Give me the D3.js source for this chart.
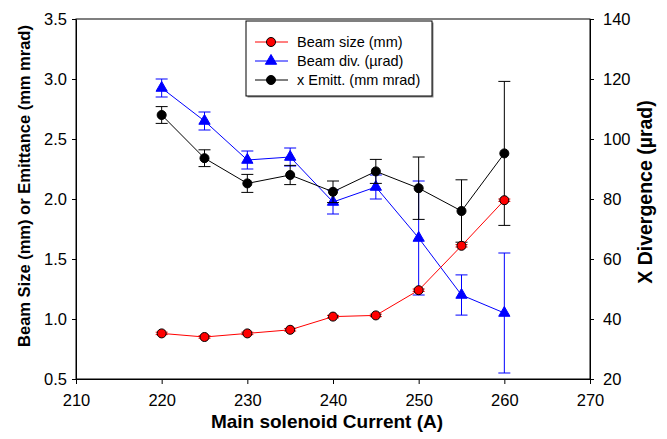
<!doctype html>
<html>
<head>
<meta charset="utf-8">
<style>
    body { margin: 0; background: #fff; }
    svg text { font-family: "Liberation Sans", Arial, sans-serif; }
</style>
<script src="https://d3js.org/d3.v7.min.js"></script>
</head>
<body>
<svg width="667" height="439" id="chart"></svg>
<script>

var current = [220, 225, 230, 235, 240, 245, 250, 255, 260];

// left axis series
var beamSize = [0.88, 0.85, 0.88, 0.91, 1.02, 1.03, 1.24, 1.61, 1.99];
var beamSizeErr = [0.01, 0.01, 0.01, 0.01, 0.01, 0.01, 0.01, 0.01, 0.01];
var emitt = [2.70, 2.34, 2.13, 2.20, 2.06, 2.23, 2.09, 1.90, 2.38];
var emittErr = [0.07, 0.07, 0.075, 0.08, 0.09, 0.1, 0.26, 0.26, 0.6];

// right axis series (urad)
var beamDiv = [117, 106, 93, 94, 79, 84, 67, 48, 42];
var beamDivErr = [3, 3, 3, 3, 4, 4, 19, 6.7, 20];

var xTicks = [210, 220, 230, 240, 250, 260, 270];
var yLeftTicks = [0.5, 1.0, 1.5, 2.0, 2.5, 3.0, 3.5];
var yRightTicks = [20, 40, 60, 80, 100, 120, 140];
var legendLabels = ["Beam size (mm)", "Beam div. (\u00b5rad)", "x Emitt. (mm mrad)"];

var svg = d3.select("#chart");
var plotL = 76, plotR = 590, plotT = 19, plotB = 379;

var x = d3.scaleLinear().domain([210, 270]).range([plotL, plotR]);
var yL = d3.scaleLinear().domain([0.5, 3.5]).range([plotB, plotT]);
var yR = d3.scaleLinear().domain([20, 140]).range([plotB, plotT]);

// frame
svg.append("rect")
   .attr("x", plotL).attr("y", plotT)
   .attr("width", plotR - plotL).attr("height", plotB - plotT)
   .attr("fill", "none").attr("stroke", "#000").attr("stroke-width", 1);

function styleAxis(g) {
    g.selectAll("path").attr("stroke", "#000");
    g.selectAll("line").attr("stroke", "#000");
    g.selectAll("text").attr("font-size", "16.5px").attr("fill", "#000");
}

svg.append("g")
   .attr("transform", "translate(0," + plotB + ")")
   .call(d3.axisBottom(x).tickValues(xTicks).tickSize(5).tickSizeOuter(0).tickPadding(10))
   .call(styleAxis);

svg.append("g")
   .attr("transform", "translate(" + plotL + ",0)")
   .call(d3.axisLeft(yL).tickValues(yLeftTicks).tickFormat(d3.format(".1f")).tickSize(4).tickSizeOuter(0).tickPadding(5))
   .call(styleAxis);

svg.append("g")
   .attr("transform", "translate(" + plotR + ",0)")
   .call(d3.axisRight(yR).tickValues(yRightTicks).tickSize(4).tickSizeOuter(0).tickPadding(9))
   .call(styleAxis);

// axis titles
svg.append("text")
   .attr("x", 327).attr("y", 428)
   .attr("text-anchor", "middle")
   .attr("font-size", "19px").attr("font-weight", "bold")
   .text("Main solenoid Current (A)");

svg.append("text")
   .attr("transform", "translate(30,186) rotate(-90)")
   .attr("text-anchor", "middle")
   .attr("font-size", "16.5px").attr("font-weight", "bold")
   .text("Beam Size (mm) or Emittance (mm mrad)");

svg.append("text")
   .attr("transform", "translate(652,192) rotate(-90)")
   .attr("text-anchor", "middle")
   .attr("font-size", "19.5px").attr("font-weight", "bold")
   .text("X Divergence (\u00b5rad)");

function drawSeries(vals, errs, y, color, marker, markerFill) {
    var data = current.map(function(c, i) { return { x: c, v: vals[i], e: errs[i] }; });
    var g = svg.append("g");
    // error bars
    var eb = g.selectAll(".eb").data(data).enter().append("g");
    eb.append("line")
      .attr("x1", function(d) { return x(d.x); }).attr("x2", function(d) { return x(d.x); })
      .attr("y1", function(d) { return y(d.v - d.e); }).attr("y2", function(d) { return y(d.v + d.e); })
      .attr("stroke", color).attr("stroke-width", 1);
    [-1, 1].forEach(function(s) {
        eb.append("line")
          .attr("x1", function(d) { return x(d.x) - 6; }).attr("x2", function(d) { return x(d.x) + 6; })
          .attr("y1", function(d) { return y(d.v + s * d.e); }).attr("y2", function(d) { return y(d.v + s * d.e); })
          .attr("stroke", color).attr("stroke-width", 1);
    });
    g.append("path")
     .datum(data)
     .attr("fill", "none").attr("stroke", color).attr("stroke-width", 1)
     .attr("d", d3.line().x(function(d) { return x(d.x); }).y(function(d) { return y(d.v); }));
    g.selectAll(".m").data(data).enter().append("path")
     .attr("transform", function(d) { return "translate(" + x(d.x) + "," + y(d.v) + ")"; })
     .attr("d", d3.symbol().type(marker).size(marker === d3.symbolTriangle ? 55 : 64))
     .attr("fill", markerFill).attr("stroke", marker === d3.symbolTriangle ? color : "#000").attr("stroke-width", 1);
}

drawSeries(beamDiv, beamDivErr, yR, "#0000ff", d3.symbolTriangle, "#0000ff");
drawSeries(emitt, emittErr, yL, "#000000", d3.symbolCircle, "#000000");
drawSeries(beamSize, beamSizeErr, yL, "#ff0000", d3.symbolCircle, "#ff0000");

// legend
var lg = svg.append("g").attr("transform", "translate(246,21)");
lg.append("rect").attr("x", 1.5).attr("y", 1.5).attr("width", 186).attr("height", 75)
  .attr("fill", "#888").attr("stroke", "none");
lg.append("rect").attr("width", 186).attr("height", 75)
  .attr("fill", "#fff").attr("stroke", "#000").attr("stroke-width", 1);
var legColors = ["#ff0000", "#0000ff", "#000000"];
var legSymbols = [d3.symbolCircle, d3.symbolTriangle, d3.symbolCircle];
legendLabels.forEach(function(t, i) {
    var yy = 21 + i * 19;
    lg.append("line").attr("x1", 9).attr("x2", 42).attr("y1", yy).attr("y2", yy)
      .attr("stroke", legColors[i]).attr("stroke-width", 1);
    lg.append("path")
      .attr("transform", "translate(25," + yy + ")")
      .attr("d", d3.symbol().type(legSymbols[i]).size(i === 1 ? 55 : 64))
      .attr("fill", legColors[i]).attr("stroke", i === 1 ? legColors[i] : "#000");
    lg.append("text").attr("x", 51).attr("y", yy + 5)
      .attr("font-size", "14.5px").text(t);
});

</script>
</body>
</html>
